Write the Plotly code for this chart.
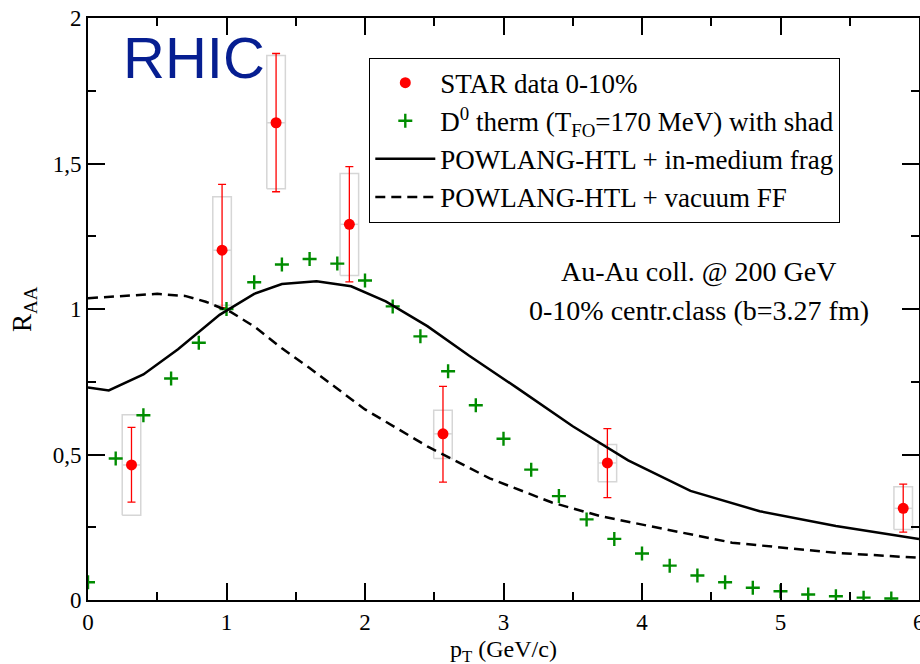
import plotly.graph_objects as go

# ---------------- data ----------------
star_x = [0.314, 0.968, 1.358, 1.887, 2.563, 3.750, 5.886]
star_y = [0.464, 1.202, 1.640, 1.291, 0.571, 0.471, 0.315]
star_err_hi = [0.593, 1.428, 1.878, 1.489, 0.734, 0.589, 0.398]
star_err_lo = [0.336, 1.005, 1.403, 1.093, 0.405, 0.352, 0.233]
star_sys_hi = [0.637, 1.386, 1.871, 1.466, 0.652, 0.534, 0.389]
star_sys_lo = [0.291, 1.013, 1.413, 1.115, 0.486, 0.406, 0.242]

therm_x = [0.0, 0.2, 0.4, 0.6, 0.8, 1.0, 1.2, 1.4, 1.6, 1.8, 2.0, 2.2, 2.4, 2.6, 2.8,
           3.0, 3.2, 3.4, 3.6, 3.8, 4.0, 4.2, 4.4, 4.6, 4.8, 5.0, 5.2, 5.4, 5.6, 5.8]
therm_y = [0.061, 0.486, 0.635, 0.761, 0.884, 1.000, 1.092, 1.153, 1.172, 1.156, 1.098,
           1.009, 0.906, 0.786, 0.669, 0.554, 0.448, 0.357, 0.277, 0.210, 0.160, 0.118,
           0.084, 0.061, 0.042, 0.030, 0.019, 0.013, 0.008, 0.005]

medium_x = [0.0, 0.15, 0.4, 0.65, 0.95, 1.2, 1.4, 1.65, 1.9, 2.15, 2.45, 2.75, 3.1,
            3.5, 3.9, 4.35, 4.85, 5.4, 6.0]
medium_y = [0.730, 0.720, 0.775, 0.862, 0.980, 1.052, 1.086, 1.095, 1.078, 1.026, 0.941,
            0.840, 0.728, 0.597, 0.480, 0.375, 0.305, 0.254, 0.210]

vacuum_x = [0.0, 0.25, 0.5, 0.7, 0.85, 1.03, 1.2, 1.4, 1.6, 2.0, 2.45, 2.9, 3.35, 3.7,
            4.2, 4.65, 5.4, 6.0]
vacuum_y = [1.037, 1.045, 1.052, 1.045, 1.025, 0.990, 0.940, 0.865, 0.797, 0.655, 0.528,
            0.418, 0.335, 0.288, 0.240, 0.197, 0.162, 0.145]

y_tickvals = [0, 0.5, 1, 1.5, 2]
y_ticktext = ["0", "0,5", "1", "1,5", "2"]
x_tickvals = [0, 1, 2, 3, 4, 5, 6]
x_ticktext = ["0", "1", "2", "3", "4", "5", "6"]

# ---------------- style ----------------
SERIF = "Liberation Serif"
BOX_HW = 0.067
RED = "rgb(255,0,0)"
GREEN = "rgb(0,140,0)"
BOXGRAY = "rgb(214,214,214)"

fig = go.Figure()

# systematic boxes (with center line)
for xc, yc, lo, hi in zip(star_x, star_y, star_sys_lo, star_sys_hi):
    fig.add_trace(go.Scatter(
        x=[xc - BOX_HW, xc + BOX_HW, xc + BOX_HW, xc - BOX_HW, xc - BOX_HW, None,
           xc - BOX_HW, xc + BOX_HW],
        y=[lo, lo, hi, hi, lo, None, yc, yc],
        mode="lines", line=dict(color=BOXGRAY, width=1.5),
        showlegend=False, hoverinfo="skip"))

fig.add_trace(go.Scatter(
    x=star_x, y=star_y, mode="markers", name="STAR data 0-10%",
    marker=dict(color=RED, size=11, symbol="circle"),
    error_y=dict(type="data", symmetric=False,
                 array=[h - y for h, y in zip(star_err_hi, star_y)],
                 arrayminus=[y - l for l, y in zip(star_err_lo, star_y)],
                 color=RED, thickness=1.3, width=4)))

fig.add_trace(go.Scatter(
    x=therm_x, y=therm_y, mode="markers",
    name="D<sup>0</sup> therm (T<sub>FO</sub>=170 MeV) with shad",
    marker=dict(symbol="cross-thin", size=10, line=dict(color=GREEN, width=2.4),
                color=GREEN)))

fig.add_trace(go.Scatter(
    x=medium_x, y=medium_y, mode="lines", name="POWLANG-HTL + in-medium frag",
    line=dict(color="black", width=2.5)))

fig.add_trace(go.Scatter(
    x=vacuum_x, y=vacuum_y, mode="lines", name="POWLANG-HTL + vacuum FF",
    line=dict(color="black", width=2.5, dash="10px,6px")))

axis_common = dict(
    showgrid=False, zeroline=False, showline=True, linecolor="black", linewidth=2,
    mirror="allticks", ticks="inside", ticklen=17, tickwidth=1.6, tickcolor="black",
    tickfont=dict(family=SERIF, size=23, color="black"), automargin=False,
)

fig.update_xaxes(range=[0, 6], tickmode="array", tickvals=x_tickvals, ticktext=x_ticktext,
                 minor=dict(ticks="inside", ticklen=8, tickwidth=1.6, tickcolor="black",
                            dtick=0.5, tick0=0, showgrid=False),
                 **axis_common)
fig.update_yaxes(range=[0, 2], tickmode="array", tickvals=y_tickvals, ticktext=y_ticktext,
                 minor=dict(ticks="inside", ticklen=8, tickwidth=1.6, tickcolor="black",
                            dtick=0.25, tick0=0, showgrid=False),
                 **axis_common)

fig.update_layout(
    width=920, height=664,
    margin=dict(l=87.5, r=1, t=18, b=63.5),
    paper_bgcolor="white", plot_bgcolor="white",
    font=dict(family=SERIF, size=22, color="black"),
    showlegend=True,
    legend=dict(x=0.3385, y=0.932, xanchor="left", yanchor="top",
                bordercolor="black", borderwidth=1, bgcolor="white",
                font=dict(family=SERIF, size=27, color="black"),
                itemwidth=60, traceorder="normal"),
    annotations=[
        dict(text="RHIC", x=0.04, y=0.991, xref="paper", yref="paper",
             xanchor="left", yanchor="top", showarrow=False,
             font=dict(family="Liberation Sans", size=58, color="rgb(6,30,145)")),
        dict(text="Au-Au coll. @ 200 GeV", x=0.735, y=0.565, xref="paper", yref="paper",
             xanchor="center", yanchor="middle", showarrow=False,
             font=dict(family=SERIF, size=28, color="black")),
        dict(text="0-10% centr.class (b=3.27 fm)", x=0.735, y=0.497, xref="paper",
             yref="paper", xanchor="center", yanchor="middle", showarrow=False,
             font=dict(family=SERIF, size=28, color="black")),
        dict(text="p<sub>T</sub> (GeV/c)", x=0.5, y=-0.058, xref="paper", yref="paper",
             xanchor="center", yanchor="top", showarrow=False,
             font=dict(family=SERIF, size=24, color="black")),
        dict(text="R<sub>AA</sub>", x=-0.077, y=0.5, xref="paper", yref="paper",
             xanchor="center", yanchor="middle", showarrow=False, textangle=-90,
             font=dict(family=SERIF, size=27, color="black")),
        dict(text=x_ticktext[-1], x=x_tickvals[-1], y=-0.013, xref="x", yref="paper",
             xanchor="center", yanchor="top", showarrow=False,
             font=dict(family=SERIF, size=23, color="black")),
    ],
)

fig.write_html("out.html")
